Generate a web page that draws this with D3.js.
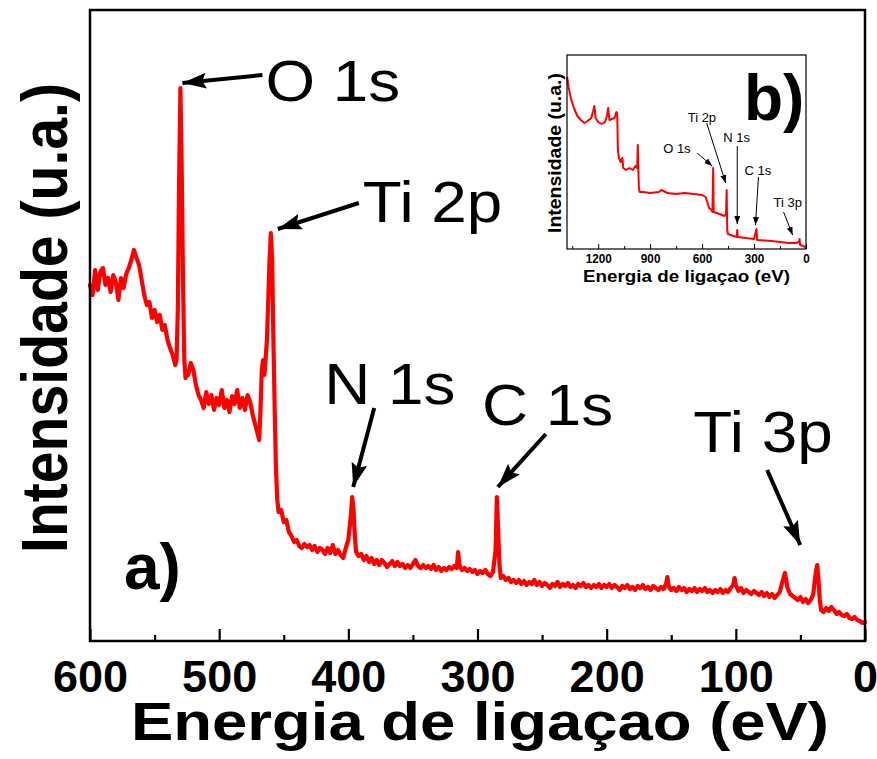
<!DOCTYPE html>
<html><head><meta charset="utf-8">
<script src="https://cdn.jsdelivr.net/npm/d3@7"></script>
<style>
html,body{margin:0;padding:0;background:#fff;}
svg{display:block;}
text{font-family:"Liberation Sans",Arial,Helvetica,sans-serif;}
</style></head>
<body>
<svg id="chart" width="877" height="759"></svg>
<script>
// ---------- DATA ----------
// Main spectrum a): binding energy (eV) and intensity (a.u.)
const energy = [600,598,596,594,592,590,588,586,584,582,580,578,576,574,572,570,568,566,564,562,560,558,556,554,552,550,548,546,544,542,540,538,536,534,533,532,531,530,529,528,527,526,525,524,522,520,518,516,514,512,510,508,506,504,502,500,498,496,494,492,490,488,486,484,482,480,478,476,474,472,470,469,468,467,466,465,464,463,462,461,460,459,458,457,456,455,454,452,450,448,446,444,442,440,438,436,434,432,430,428,426,424,422,420,418,416,414,412,410,408,406,404,402,400,398,397,396,395,394,392,390,388,386,384,382,380,378,376,374,372,370,368,366,364,362,360,358,356,354,352,350,348,346,344,342,340,338,336,334,332,330,328,326,324,322,320,318,316,315,314,312,310,308,306,304,302,300,298,296,294,292,290,288,286,285,284,283,282,280,278,276,274,272,270,268,266,264,262,260,258,256,254,252,250,248,246,244,242,240,238,236,234,232,230,228,226,224,222,220,218,216,214,212,210,208,206,204,202,200,198,196,194,192,190,188,186,184,182,180,178,176,174,172,170,168,166,164,162,160,158,156,154,153,152,150,148,146,144,142,140,138,136,134,132,130,128,126,124,122,120,118,116,114,112,110,108,106,104,102,101,100,98,96,94,92,90,88,86,84,82,80,78,76,74,72,70,68,66,64,62,61,60,58,56,54,52,50,48,46,44,42,40,39,38,37,36,35,34,32,30,28,26,24,22,20,18,16,14,12,10,8,6,4,2,0];
const intensity = [355,345,370,350,368,372,355,362,348,365,358,340,362,352,366,372,380,390,382,375,360,345,335,338,322,330,318,325,310,315,300,292,285,275,280,330,460,552,470,360,280,262,268,265,277,270,255,245,240,232,248,236,245,230,242,235,250,232,240,228,244,236,250,232,242,230,245,238,225,215,205,200,230,270,280,265,282,300,340,380,407,380,300,230,170,140,128,130,118,120,108,104,98,100,94,92,96,93,95,90,94,88,92,90,86,92,87,95,86,90,85,82,92,100,125,143,130,105,88,84,86,80,84,78,82,76,80,75,80,77,73,76,79,74,78,74,76,72,75,72,76,80,74,72,75,72,74,71,75,70,73,69,72,70,73,71,74,72,88,75,70,72,69,71,68,70,66,69,67,70,66,64,68,90,143,110,75,62,64,60,62,58,60,57,60,56,59,55,58,56,60,55,58,54,57,55,52,56,54,58,53,56,54,57,53,55,52,56,54,57,53,55,52,55,53,56,52,55,53,56,52,55,53,50,54,52,55,51,53,50,54,52,55,51,53,50,54,52,50,53,51,56,63,54,50,52,49,53,50,52,48,51,49,52,48,51,49,52,48,50,47,50,48,51,47,50,48,52,55,62,55,49,52,47,50,48,46,49,47,45,48,44,47,43,46,42,45,48,58,67,60,52,46,44,42,40,43,38,41,37,40,46,58,68,75,60,40,30,28,32,29,33,30,26,28,25,24,26,22,21,23,20,19,17,18];

// Inset b): survey spectrum
const insetEnergy = [1379,1370,1355,1340,1320,1300,1280,1260,1240,1230,1222,1215,1200,1180,1160,1150,1142,1135,1120,1105,1095,1090,1086,1080,1070,1060,1055,1040,1020,1000,985,975,971,968,965,960,940,900,850,835,800,750,700,650,600,580,570,560,545,540,536,533,500,470,462,458,455,450,420,400,397,394,350,300,286,282,200,150,100,60,40,37,34,15,0];
const insetIntensity = [172,161,149,141,133,129,126,128,131,137,143,131,127,125,127,133,141,129,130,131,137,135,99,91,87,91,81,79,81,79,83,81,104,79,61,57,57,56,57,59,56,55,56,55,54,52,47,41,39,37,81,37,35,33,35,59,19,15,13,12,19,12,11,10,20,9,8,7,6,6,7,10,4,3,1];

// Axis ticks
const mainMajorTicks = [600,500,400,300,200,100,0];
const mainMinorTicks = [550,450,350,250,150,50];
const insetMajorTicks = [1200,900,600,300,0];
const insetMinorTicks = [1350,1050,750,450,150];

// Peak annotations
const peakLabels = ["O 1s","Ti 2p","N 1s","C 1s","Ti 3p"];
const peakEnergies = [530,460,397,285,37];
const peakIntensities = [552,407,143,143,75];
const insetPeakEnergies = [536,458,397,286,37];
const insetPeakIntensities = [81,59,19,20,10];

// ---------- LAYOUT ----------
const W = 877, H = 759;
const M = {left:90, right:865, top:10, bottom:641};
const I = {left:567, right:806, top:55, bottom:249};
// annotation layout (pixel offsets from the peak point)
const mainAnno = [
  {tip:[2,-5],  tail:[82,-13], text:[85,13]},
  {tip:[7,-4],  tail:[88,-30], text:[92,-11]},
  {tip:[1,-10], tail:[22,-89], text:[-28,-93]},
  {tip:[1,-10], tail:[49,-63], text:[-15,-72]},
  {tip:[-17,-20],tail:[-50,-95],text:[-124,-113]}
];
const insetAnno = [
  {tip:[-1,-2], tail:[-16,-15], text:[-50,-15]},
  {tip:[-1,-7], tail:[-20,-67], text:[-39,-68]},
  {tip:[0,-6],  tail:[0,-84],   text:[-14,-88]},
  {tip:[-1,-4], tail:[2,-52],   text:[-12,-54]},
  {tip:[-7,-4], tail:[-16,-27], text:[-26,-32]}
];

const svg = d3.select("#chart");
svg.append("rect").attr("width",W).attr("height",H).attr("fill","#fff");

const defs = svg.append("defs");
defs.append("marker").attr("id","headBig")
  .attr("markerUnits","userSpaceOnUse").attr("markerWidth",26).attr("markerHeight",18)
  .attr("refX",24).attr("refY",8).attr("orient","auto")
  .append("path").attr("d","M0,0 L24,8 L0,16 L4,8 Z").attr("fill","#000");
defs.append("marker").attr("id","headSmall")
  .attr("markerUnits","userSpaceOnUse").attr("markerWidth",9).attr("markerHeight",7)
  .attr("refX",8).attr("refY",3).attr("orient","auto")
  .append("path").attr("d","M0,0 L8,3 L0,6 Z").attr("fill","#000");

function squeeze(sel, f){
  sel.each(function(){
    const w = this.getComputedTextLength();
    d3.select(this).attr("textLength", w*f).attr("lengthAdjust","spacingAndGlyphs");
  });
}

// ---------- MAIN CHART ----------
const x = d3.scaleLinear().domain([600,0]).range([M.left,M.right]);
const y = d3.scaleLinear().domain([0,630]).range([640,10]);

const mainData = energy.map((e,i)=>[e,intensity[i]]);
svg.append("path").datum(mainData)
  .attr("fill","none").attr("stroke","#ff0000").attr("stroke-width",4.2)
  .attr("stroke-linejoin","round").attr("stroke-linecap","round")
  .attr("d", d3.line().x(d=>x(d[0])).y(d=>y(d[1])));

const gx = svg.append("g").attr("transform",`translate(0,${M.bottom})`)
  .call(d3.axisBottom(x).tickValues(mainMajorTicks).tickSize(-12).tickPadding(19).tickFormat(d3.format("d")));
gx.select(".domain").remove();
gx.selectAll(".tick line").attr("stroke","#000").attr("stroke-width",2.2);
gx.selectAll(".tick text").attr("font-size",45).attr("font-weight","bold").attr("fill","#000")
  .style("font-family","'Liberation Sans',Arial,sans-serif");
const gxm = svg.append("g").attr("transform",`translate(0,${M.bottom})`)
  .call(d3.axisBottom(x).tickValues(mainMinorTicks).tickSize(-6).tickFormat(""));
gxm.select(".domain").remove();
gxm.selectAll(".tick line").attr("stroke","#000").attr("stroke-width",2.2);

svg.append("rect").attr("x",M.left).attr("y",M.top)
  .attr("width",M.right-M.left).attr("height",M.bottom-M.top)
  .attr("fill","none").attr("stroke","#000").attr("stroke-width",2.5);

svg.append("text").attr("x",(131+829)/2).attr("y",740)
  .attr("text-anchor","middle").attr("font-size",53).attr("font-weight","bold")
  .attr("textLength",698).attr("lengthAdjust","spacingAndGlyphs")
  .text("Energia de ligaçao (eV)");
svg.append("text").attr("transform","translate(67,318) rotate(-90)")
  .attr("text-anchor","middle").attr("font-size",64).attr("font-weight","bold")
  .attr("textLength",470).attr("lengthAdjust","spacingAndGlyphs")
  .text("Intensidade (u.a.)");

svg.append("text").attr("x",124).attr("y",589).attr("font-size",64).attr("font-weight","bold")
  .text("a)");

// main annotations
peakLabels.forEach((lab,i)=>{
  const px = x(peakEnergies[i]), py = y(peakIntensities[i]);
  const a = mainAnno[i];
  svg.append("line")
    .attr("x1",px+a.tail[0]).attr("y1",py+a.tail[1])
    .attr("x2",px+a.tip[0]).attr("y2",py+a.tip[1])
    .attr("stroke","#000").attr("stroke-width",4)
    .attr("marker-end","url(#headBig)");
  const t = svg.append("text").attr("x",px+a.text[0]).attr("y",py+a.text[1])
    .attr("font-size",58).attr("fill","#000").text(lab);
  squeeze(t,1.1);
});

// ---------- INSET ----------
const xi = d3.scaleLinear().domain([1380,0]).range([I.left,I.right]);
const yi = d3.scaleLinear().domain([0,194]).range([I.bottom,I.top]);
const insetData = insetEnergy.map((e,i)=>[e,insetIntensity[i]]);
svg.append("path").datum(insetData)
  .attr("fill","none").attr("stroke","#ff0000").attr("stroke-width",2)
  .attr("stroke-linejoin","round")
  .attr("d", d3.line().x(d=>xi(d[0])).y(d=>yi(d[1])));

const gi = svg.append("g").attr("transform",`translate(0,${I.bottom})`)
  .call(d3.axisBottom(xi).tickValues(insetMajorTicks).tickSize(-5).tickPadding(5).tickFormat(d3.format("d")));
gi.select(".domain").remove();
gi.selectAll(".tick line").attr("stroke","#000").attr("stroke-width",1);
gi.selectAll(".tick text").attr("font-size",13).attr("font-weight","bold").attr("fill","#000")
  .style("font-family","'Liberation Sans',Arial,sans-serif");
squeeze(gi.selectAll(".tick text"),0.9);
const gim = svg.append("g").attr("transform",`translate(0,${I.bottom})`)
  .call(d3.axisBottom(xi).tickValues(insetMinorTicks).tickSize(-3).tickFormat(""));
gim.select(".domain").remove();
gim.selectAll(".tick line").attr("stroke","#000").attr("stroke-width",1);

svg.append("rect").attr("x",I.left).attr("y",I.top)
  .attr("width",I.right-I.left).attr("height",I.bottom-I.top)
  .attr("fill","none").attr("stroke","#000").attr("stroke-width",1.2);

svg.append("text").attr("x",(583+790)/2).attr("y",282)
  .attr("text-anchor","middle").attr("font-size",17).attr("font-weight","bold")
  .attr("textLength",207).attr("lengthAdjust","spacingAndGlyphs")
  .text("Energia de ligaçao (eV)");
svg.append("text").attr("transform","translate(561,153) rotate(-90)")
  .attr("text-anchor","middle").attr("font-size",18).attr("font-weight","bold")
  .attr("textLength",160).attr("lengthAdjust","spacingAndGlyphs")
  .text("Intensidade (u.a.)");
svg.append("text").attr("x",744).attr("y",120).attr("font-size",64).attr("font-weight","bold")
  .text("b)");

peakLabels.forEach((lab,i)=>{
  const px = xi(insetPeakEnergies[i]), py = yi(insetPeakIntensities[i]);
  const a = insetAnno[i];
  svg.append("line")
    .attr("x1",px+a.tail[0]).attr("y1",py+a.tail[1])
    .attr("x2",px+a.tip[0]).attr("y2",py+a.tip[1])
    .attr("stroke","#000").attr("stroke-width",1)
    .attr("marker-end","url(#headSmall)");
  svg.append("text").attr("x",px+a.text[0]).attr("y",py+a.text[1])
    .attr("font-size",13).attr("fill","#000").text(lab);
});
</script>
</body></html>
